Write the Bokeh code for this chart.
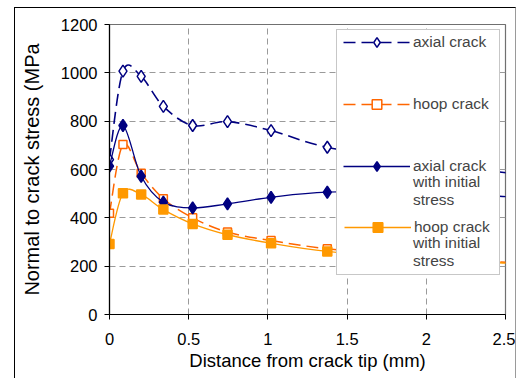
from bokeh.plotting import figure
from bokeh.models import Range1d, FixedTicker, Legend, LegendItem, ColumnDataSource
from bokeh.embed import file_html
from bokeh.resources import INLINE

# ---- data ----
distance = [0, 0.085, 0.2, 0.34, 0.525, 0.745, 1.02, 1.375, 1.9, 2.6]
axial_crack = [641, 1007, 985, 861, 782, 798, 761, 692, 640, 578]
hoop_crack = [419, 703, 585, 479, 400, 341, 306, 272, 240, 212]
axial_crack_init = [614, 782, 572, 465, 441, 458, 485, 506, 505, 485]
hoop_crack_init = [292, 502, 497, 434, 375, 330, 295, 261, 232, 210]

# legend names: first line goes next to the glyph, the rest below it
series_first_lines = ["axial crack", "hoop crack", "axial crack", "hoop crack"]
series_more_lines = [None, None, "with initial\nstress", "with initial\nstress"]

x_ticks = [0, 0.5, 1, 1.5, 2, 2.5]
x_tick_labels = ["0", "0.5", "1", "1.5", "2", "2.5"]
y_ticks = [0, 200, 400, 600, 800, 1000, 1200]
y_tick_labels = ["0", "200", "400", "600", "800", "1000", "1200"]

FONT = "Liberation Sans"


def smooth_segments(xs, ys):
    """Bezier control points (Excel-like smoothed line) through the data points."""
    n = len(xs)
    d = dict(x0=[], y0=[], x1=[], y1=[], cx0=[], cy0=[], cx1=[], cy1=[])
    for i in range(n - 1):
        a = i - 1 if i > 0 else i
        b = i + 2 if i + 2 < n else i + 1
        d["x0"].append(xs[i]); d["y0"].append(ys[i])
        d["x1"].append(xs[i + 1]); d["y1"].append(ys[i + 1])
        d["cx0"].append(xs[i] + (xs[i + 1] - xs[a]) / 6.0)
        d["cy0"].append(ys[i] + (ys[i + 1] - ys[a]) / 6.0)
        d["cx1"].append(xs[i + 1] - (xs[b] - xs[i]) / 6.0)
        d["cy1"].append(ys[i + 1] - (ys[b] - ys[i]) / 6.0)
    return d


p = figure(width=502, height=371, output_backend="svg", toolbar_location=None,
           x_range=Range1d(0, 2.5), y_range=Range1d(0, 1200),
           min_border_left=94, min_border_right=12, min_border_top=16,
           min_border_bottom=65)
p.margin = (7, 0, 0, 14)
p.styles = {"border-left": "1px solid black", "border-top": "1px solid black",
            "border-right": "1px solid #9a9a9a"}
p.background_fill_color = "white"
p.border_fill_color = "white"
p.outline_line_color = "#707070"
p.outline_line_width = 1.2

# axes
for ax in (p.xaxis, p.yaxis):
    ax.axis_line_color = "black"
    ax.axis_line_width = 1.2
    ax.major_tick_line_color = "black"
    ax.major_tick_in = 0
    ax.major_tick_out = 5
    ax.minor_tick_line_color = None
    ax.major_label_text_font = FONT
    ax.major_label_text_font_size = "16.5px"
    ax.major_label_text_color = "black"
    ax.axis_label_text_font = FONT
    ax.axis_label_text_font_style = "normal"
    ax.axis_label_text_color = "black"

p.xaxis.axis_label_text_font_size = "18.5px"
p.yaxis.axis_label_text_font_size = "20px"
p.xaxis.ticker = FixedTicker(ticks=x_ticks)
p.yaxis.ticker = FixedTicker(ticks=y_ticks)
p.xaxis.major_label_overrides = dict(zip(x_ticks, x_tick_labels))
p.yaxis.major_label_overrides = dict(zip(y_ticks, y_tick_labels))
p.xaxis.axis_label = "Distance from crack tip (mm)"
p.yaxis.axis_label = "Normal to crack stress (MPa"
p.xaxis.major_label_standoff = 13
p.xaxis.axis_label_standoff = 2
p.yaxis.major_label_standoff = 7
p.yaxis.axis_label_standoff = 15

# grid
p.xgrid.ticker = FixedTicker(ticks=x_ticks)
p.ygrid.ticker = FixedTicker(ticks=y_ticks)
for g in (p.xgrid, p.ygrid):
    g.grid_line_color = "#9a9a9a"
    g.grid_line_dash = "6 4"
    g.grid_line_width = 1

NAVY = "#000080"
ORANGE = "#FF6600"
LORANGE = "#FF9900"

styles = [
    dict(y=axial_crack, color=NAVY, dash="12 6", marker="diamond", size=12, fill="white", lw=1.6),
    dict(y=hoop_crack, color=ORANGE, dash="12 6", marker="square", size=8, fill="white", lw=1.5),
    dict(y=axial_crack_init, color=NAVY, dash="solid", marker="diamond", size=12, fill=NAVY, lw=1.3),
    dict(y=hoop_crack_init, color=LORANGE, dash="solid", marker="square", size=9, fill=LORANGE, lw=1.3),
]

items = []
for name, st in zip(series_first_lines, styles):
    src = ColumnDataSource(smooth_segments(distance, st["y"]))
    br = p.bezier(x0="x0", y0="y0", x1="x1", y1="y1", cx0="cx0", cy0="cy0",
                  cx1="cx1", cy1="cy1", source=src, line_color=st["color"],
                  line_width=st["lw"], line_dash=st["dash"])
    sr = p.scatter(distance, st["y"], marker=st["marker"], size=st["size"],
                   line_color=st["color"], fill_color=st["fill"], line_width=1.5)
    items.append(LegendItem(label=name, renderers=[br, sr]))

common = dict(margin=0, glyph_width=67, glyph_height=24, label_standoff=3,
              label_width=78, label_text_font=FONT, label_text_font_size="15.5px")

# framed legend box (holds the last entry; the title leaves room for the others)
legend_b = Legend(items=items[3:], location=(227, 39), padding=7,
                  title=" ", title_text_font_size="10px", title_standoff=139,
                  label_height=80,
                  border_line_color="#909090", border_line_width=1.2,
                  background_fill_color="white", background_fill_alpha=1.0,
                  **common)
p.add_layout(legend_b, "center")

# first three entries, drawn on top of the framed box
legend_a = Legend(items=items[:3], location=(234, 136), padding=0, spacing=38,
                  label_height=20, border_line_color=None,
                  background_fill_alpha=0.0, **common)
p.add_layout(legend_a, "center")

# continuation lines of the two-line legend names (glyph-less entries)
blank = p.scatter(x=[], y=[], size=0, fill_alpha=0, line_alpha=0)
more_items = [LegendItem(label=t, renderers=[blank]) for t in series_more_lines[2:]]
legend_c = Legend(items=more_items, location=(234, 44), padding=0, spacing=25,
                  glyph_width=67, glyph_height=20, label_standoff=3, label_width=78,
                  label_height=20, margin=0, label_text_font=FONT,
                  label_text_font_size="15.5px", label_text_line_height=1.2,
                  border_line_color=None, background_fill_alpha=0.0)
p.add_layout(legend_c, "center")

open("out.html", "w").write(file_html(p, INLINE))
